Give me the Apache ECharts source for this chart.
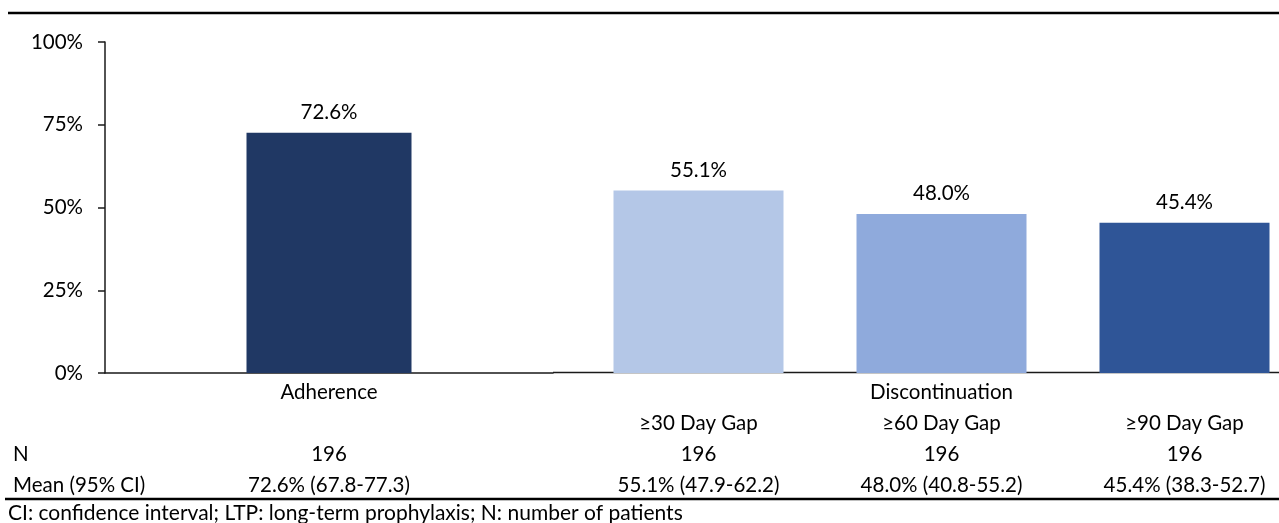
<!DOCTYPE html>
<html>
<head>
<meta charset="utf-8">
<script src="https://cdn.jsdelivr.net/npm/echarts@6/dist/echarts.min.js"></script>
<style>
  html, body { margin: 0; padding: 0; background: #fff; }
  #chart { width: 1279px; height: 523px; }
</style>
</head>
<body>
<div id="chart"></div>
<script>
// Adherence group
const adherenceCategories = ['Adherence'];
const adherenceValues = [72.6];
const adherenceCI = [[67.8, 77.3]];
const adherenceN = [196];

// Discontinuation group (gap thresholds)
const groupTitle = 'Discontinuation';
const gapCategories = ['≥30 Day Gap', '≥60 Day Gap', '≥90 Day Gap'];
const gapValues = [55.1, 48.0, 45.4];
const gapCI = [[47.9, 62.2], [40.8, 55.2], [38.3, 52.7]];
const gapN = [196, 196, 196];

// Axis and table text
const yTicks = { min: 0, max: 100, interval: 25 };
const rowHeaders = ['N', 'Mean (95% CI)'];
const footnote = 'CI: confidence interval; LTP: long-term prophylaxis; N: number of patients';

const adherenceColor = '#203864';
const gapColors = ['#B4C7E7', '#8FAADC', '#2F5597'];

const FONT = 'Lato';
const FS = 20.5;
const TXT = '#000000';
const AXIS = '#1a1a1a';

const fmt = v => v.toFixed(1);
const meanText = (v, ci) => `${fmt(v)}% (${fmt(ci[0])}-${fmt(ci[1])})`;

// The discontinuation panel's slots are wider than the space left on the
// canvas, so its x range is cut off a little before the last slot ends.
const GAP_PANEL_LEFT = 577;
const GAP_SLOT = 243;
const gapXMax = -0.5 + (1279 - GAP_PANEL_LEFT) / GAP_SLOT;
const gapIndex = gapCategories.map((_, i) => i);

const chart = echarts.init(document.getElementById('chart'), null, { renderer: 'canvas' });

const labelStyle = {
  fontFamily: FONT,
  fontSize: FS,
  color: TXT,
  lineHeight: 31,
  margin: 4
};

chart.setOption({
  animation: false,
  backgroundColor: '#ffffff',
  grid: [
    { left: 105, right: 726, top: 42, bottom: 150 },
    { left: GAP_PANEL_LEFT, right: 0, top: 42, bottom: 150 }
  ],
  xAxis: [
    {
      gridIndex: 0,
      type: 'category',
      data: adherenceCategories,
      axisLine: { show: true, lineStyle: { color: AXIS, width: 1.5 } },
      axisTick: { show: false },
      axisLabel: Object.assign({ interval: 0 }, labelStyle, {
        formatter: (val, i) => [val, '', String(adherenceN[i]), meanText(adherenceValues[i], adherenceCI[i])].join('\n')
      })
    },
    {
      gridIndex: 1,
      type: 'value',
      min: -0.5,
      max: gapXMax,
      splitLine: { show: false },
      axisLine: { show: false },
      axisTick: { show: false },
      axisLabel: Object.assign({}, labelStyle, {
        customValues: gapIndex,
        showMinLabel: true,
        showMaxLabel: true,
        formatter: v => {
          const i = Math.round(v);
          return [i === 1 ? groupTitle : '', gapCategories[i], String(gapN[i]), meanText(gapValues[i], gapCI[i])].join('\n');
        }
      })
    }
  ],
  yAxis: [
    {
      gridIndex: 0,
      type: 'value',
      min: yTicks.min,
      max: yTicks.max,
      interval: yTicks.interval,
      axisLine: { show: true, lineStyle: { color: AXIS, width: 1.5 } },
      axisTick: { show: true, length: 7, lineStyle: { color: AXIS, width: 1.5 } },
      splitLine: { show: false },
      axisLabel: { formatter: '{value}%', fontFamily: FONT, fontSize: FS, color: TXT, margin: 22 }
    },
    {
      gridIndex: 1,
      type: 'value',
      min: yTicks.min,
      max: yTicks.max,
      interval: yTicks.interval,
      show: false
    }
  ],
  series: [
    {
      type: 'bar',
      xAxisIndex: 0,
      yAxisIndex: 0,
      data: adherenceValues,
      barWidth: 165,
      itemStyle: { color: adherenceColor },
      label: {
        show: true, position: 'top', distance: 10,
        formatter: p => fmt(p.value[1] !== undefined ? p.value[1] : p.value) + '%',
        fontFamily: FONT, fontSize: FS, color: TXT
      }
    },
    {
      type: 'bar',
      xAxisIndex: 1,
      yAxisIndex: 1,
      data: gapValues.map((v, i) => ({ value: [gapIndex[i], v], itemStyle: { color: gapColors[i] } })),
      barWidth: 170,
      label: {
        show: true, position: 'top', distance: 10,
        formatter: p => fmt(p.value[1]) + '%',
        fontFamily: FONT, fontSize: FS, color: TXT
      }
    }
  ],
  graphic: [
    // top rule
    { type: 'line', shape: { x1: 8, y1: 13, x2: 1279, y2: 13 }, style: { stroke: '#000', lineWidth: 2.5 } },
    // baseline under the discontinuation bars
    { type: 'line', shape: { x1: 553, y1: 372.5, x2: 1279, y2: 372.5 }, style: { stroke: AXIS, lineWidth: 1.5 } },
    // table row headers
    { type: 'text', x: 13, y: 454, style: { text: rowHeaders[0], fontFamily: FONT, fontSize: FS, fill: TXT, verticalAlign: 'middle' } },
    { type: 'text', x: 13, y: 485, style: { text: rowHeaders[1], fontFamily: FONT, fontSize: FS, fill: TXT, verticalAlign: 'middle' } },
    // rule above the footnote
    { type: 'line', shape: { x1: 5, y1: 499, x2: 1279, y2: 499 }, style: { stroke: '#000', lineWidth: 2.5 } },
    { type: 'text', x: 8, y: 513, style: { text: footnote, fontFamily: FONT, fontSize: 21, fill: TXT, verticalAlign: 'middle' } }
  ]
});
</script>
</body>
</html>
